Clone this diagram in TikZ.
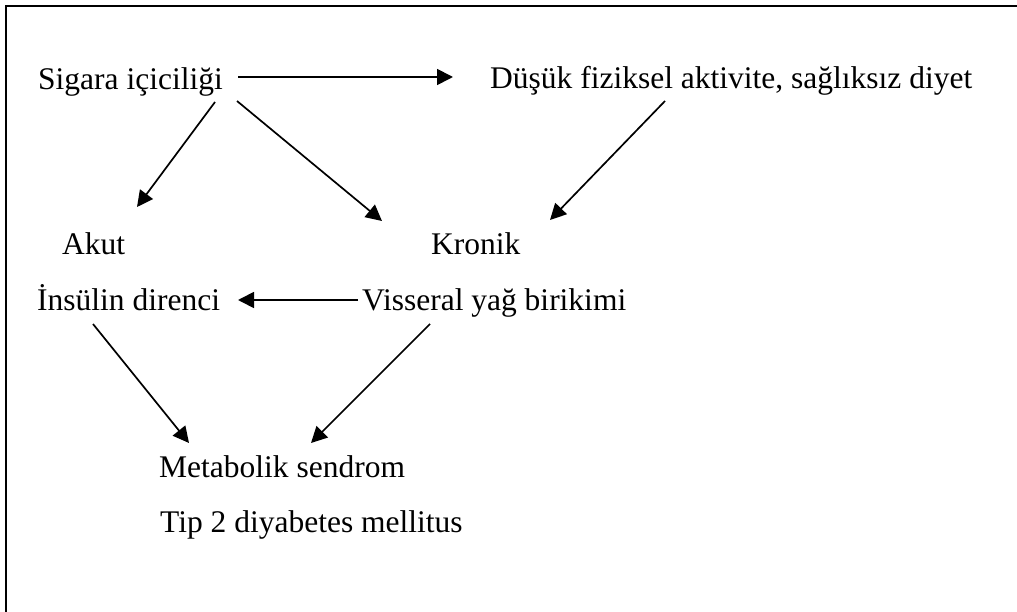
\documentclass[tikz,border=0pt]{standalone}
\usepackage{fontspec}
\setmainfont{Liberation Serif}
\usetikzlibrary{arrows.meta,calc}
\begin{document}
\begin{tikzpicture}[x=1pt,y=-1pt,
  lbl/.style={anchor=base west,inner sep=0pt,font=\fontsize{31.5}{38}\selectfont},
  arr/.style={line width=1.7pt,-{Triangle[length=16pt,width=16pt]}}]
\useasboundingbox (0,0) rectangle (1017,612);
\draw[line width=2pt] (6,612) -- (6,6) -- (1017,6);
\node[lbl] (sig)  at (38,90)   {Sigara içiciliği};
\node[lbl] (dus)  at (490,89)  {Düşük fiziksel aktivite, sağlıksız diyet};
\node[lbl] (akut) at (62,255)  {Akut};
\node[lbl] (kro)  at (431,255) {Kronik};
\node[lbl] (ins)  at (37,310)  {İnsülin direnci};
\node[lbl] (vis)  at (362,310) {Visseral yağ birikimi};
\node[lbl] (met)  at (159,477) {Metabolik sendrom};
\node[lbl] (tip)  at (160,532) {Tip 2 diyabetes mellitus};
\draw[arr] ($(sig.base west)+(200,-13)$) -- ($(dus.base west)+(-37,-12)$);
\draw[arr] ($(sig.base west)+(177,12)$) -- ($(akut.base west)+(75,-48)$);
\draw[arr] ($(sig.base west)+(199,11)$) -- ($(kro.base west)+(-49,-34)$);
\draw[arr] ($(dus.base west)+(175,12)$) -- ($(kro.base west)+(119,-35)$);
\draw[arr] ($(vis.base west)+(-4,-10)$) -- ($(ins.base west)+(201,-10)$);
\draw[arr] ($(ins.base west)+(56,14)$) -- ($(met.base west)+(30,-34)$);
\draw[arr] ($(vis.base west)+(68,14)$) -- ($(met.base west)+(152,-34)$);
\end{tikzpicture}
\end{document}
